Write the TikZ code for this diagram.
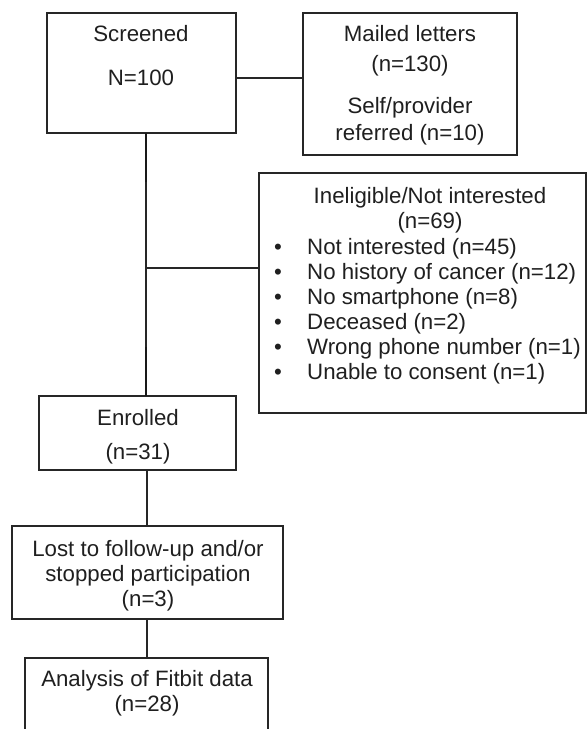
\documentclass[tikz,border=0pt]{standalone}
\usepackage{fontspec}
\setmainfont{Liberation Sans}
\begin{document}
\begin{tikzpicture}[x=1pt,y=-1pt,
  box/.style={draw=black!85, line width=1.2pt, anchor=north west, inner sep=0pt, outer sep=0pt},
  lbl/.style={anchor=base, inner sep=0pt, text=black!88, font=\fontsize{22.25}{24.7}\selectfont},
  lbll/.style={lbl, anchor=base west},
  conn/.style={draw=black!85, line width=1.2pt},
  connthick/.style={draw=black!90, line width=2.4pt}]
\useasboundingbox (0,0) rectangle (587,729);
\clip (0,0) rectangle (587,729);
% boxes
\node[box, minimum width=189pt, minimum height=120pt] (scr) at (47,13) {};
\node[box, minimum width=214pt, minimum height=142pt] (mail) at (303,13) {};
\node[box, minimum width=327pt, minimum height=240pt] (inel) at (259,173) {};
\node[box, minimum width=197pt, minimum height=74pt] (enr) at (39,396) {};
\node[box, minimum width=271pt, minimum height=93pt] (lost) at (12,526) {};
\node[box, minimum width=243pt, minimum height=110pt] (ana) at (25,658) {};
% texts
\node[lbl] (s1) at (141,41) {Screened};
\node[lbl] (s2) at (141,85) {N=100};
\node[lbl] (m1) at (410,41) {Mailed letters};
\node[lbl] (m2) at (410,71) {(n=130)};
\node[lbl] (m3) at (410,113) {Self/provider};
\node[lbl] (m4) at (410,140) {referred (n=10)};
\node[lbl] (i1) at (430,203) {Ineligible/Not interested};
\node[lbl] (i2) at (430,228) {(n=69)};
\foreach \y/\t [count=\k] in {254/Not interested (n=45), 279/No history of cancer (n=12), 304/No smartphone (n=8), 329/Deceased (n=2), 354/Wrong phone number (n=1), 379/Unable to consent (n=1)}{
  \node[lbl] (b\k) at (278,\y) {•};
  \node[lbll] (l\k) at (307,\y) {\t};
}
\node[lbl] (e1) at (138,425) {Enrolled};
\node[lbl] (e2) at (138,459) {(n=31)};
\node[lbl] (o1) at (148,556) {Lost to follow-up and/or};
\node[lbl] (o2) at (148,581) {stopped participation};
\node[lbl] (o3) at (148,606) {(n=3)};
\node[lbl] (a1) at (147,686) {Analysis of Fitbit data};
\node[lbl] (a2) at (147,711) {(n=28)};
% connectors
\coordinate (j1) at (236,78);
\draw[conn] (j1) -- (mail.west |- j1);
\coordinate (v0) at (146,133);
\coordinate (v1) at (146,268);
\draw[conn] (v0) -- (v0 |- enr.north);
\draw[connthick] (v0) -- (146,182);
\draw[connthick] (146,347) -- (v0 |- enr.north);
\draw[conn] (v1) -- (v1 -| inel.west);
\coordinate (v2) at (147,470);
\draw[conn] (v2) -- (v2 |- lost.north);
\coordinate (v3) at (147,619);
\draw[conn] (v3) -- (v3 |- ana.north);
\end{tikzpicture}
\end{document}
